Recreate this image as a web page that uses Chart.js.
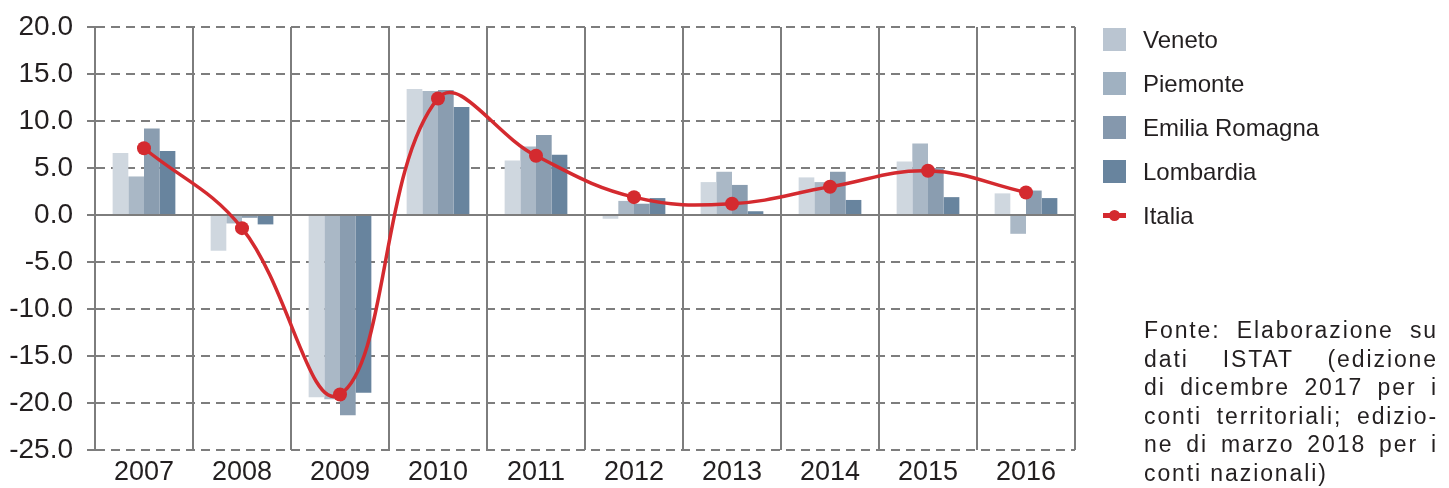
<!DOCTYPE html>
<html>
<head>
<meta charset="utf-8">
<script src="https://cdn.jsdelivr.net/npm/chart.js@4.4.1/dist/chart.umd.min.js"></script>
<style>
  html, body { margin: 0; padding: 0; background: #fff; }
  body { width: 1449px; height: 488px; position: relative; overflow: hidden;
         font-family: "Liberation Sans", Arial, sans-serif; color: #231f20; }
  #chart { position: absolute; left: 0; top: 0; }
  #legend { position: absolute; left: 1103px; top: 28px; }
  .item { height: 44px; display: flex; align-items: flex-start; font-size: 24px; }
  .item .box { width: 23px; height: 23px; margin-right: 17px; flex: none; }
  .item .ln { width: 23px; height: 23px; margin-right: 17px; flex: none; position: relative; }
  .item .ln::before { content: ""; position: absolute; left: 0; right: 0; top: 9px; height: 5px; background: #d42a2f; }
  .item .ln::after { content: ""; position: absolute; left: 6px; top: 6px; width: 11px; height: 11px; border-radius: 50%; background: #d42a2f; }
  .item span { line-height: 23px; }
  #note { position: absolute; left: 1144px; top: 316px; width: 294px; font-size: 23px; letter-spacing: 1.9px; line-height: 28.6px; }
  #note div { text-align: justify; text-align-last: justify; white-space: nowrap; }
  #note div.last { text-align-last: left; }
</style>
</head>
<body>
<canvas id="chart" width="1449" height="488"></canvas>
<div id="legend"></div>
<div id="note">
  <div>Fonte: Elaborazione su</div>
  <div>dati ISTAT (edizione</div>
  <div>di dicembre 2017 per i</div>
  <div>conti territoriali; edizio-</div>
  <div>ne di marzo 2018 per i</div>
  <div class="last">conti nazionali)</div>
</div>
<script>
const anni = ["2007", "2008", "2009", "2010", "2011", "2012", "2013", "2014", "2015", "2016"];
const veneto     = [6.6, -3.8, -19.4, 13.4, 5.8, -0.4, 3.5, 4.0, 5.7, 2.3];
const piemonte   = [4.1, -0.9, -19.6, 13.2, 7.3, 1.5, 4.6, 3.5, 7.6, -2.0];
const emilia     = [9.2, -0.3, -21.3, 13.3, 8.5, 1.2, 3.2, 4.6, 5.0, 2.6];
const lombardia  = [6.8, -1.0, -18.9, 11.5, 6.4, 1.8, 0.4, 1.6, 1.9, 1.8];
const italia     = [7.1, -1.4, -19.1, 12.4, 6.3, 1.9, 1.2, 3.0, 4.7, 2.4];

const coloriBarre = ['#cfd7df', '#aab8c6', '#8a9db0', '#68849e'];
const coloriLegenda = ['#bac5d1', '#a0b1c1', '#8598ad', '#68849e'];
const rosso = '#d42a2f';
const grigio = '#7d7d7d';
const font = "'Liberation Sans', Arial, sans-serif";

const serie = [
  { label: 'Veneto', data: veneto },
  { label: 'Piemonte', data: piemonte },
  { label: 'Emilia Romagna', data: emilia },
  { label: 'Lombardia', data: lombardia }
];

const datasets = serie.map((s, i) => ({
  type: 'bar',
  label: s.label,
  data: s.data,
  backgroundColor: coloriBarre[i],
  borderWidth: 0,
  categoryPercentage: 0.64,
  barPercentage: 1.0,
  order: 1
}));
datasets.push({
  type: 'line',
  label: 'Italia',
  data: italia,
  borderColor: rosso,
  backgroundColor: rosso,
  borderWidth: 3.5,
  tension: 0.4,
  pointRadius: 7,
  pointBackgroundColor: rosso,
  pointBorderWidth: 0,
  order: 0
});

// legenda html
const leg = document.getElementById('legend');
serie.forEach((s, i) => {
  leg.insertAdjacentHTML('beforeend',
    `<div class="item"><div class="box" style="background:${coloriLegenda[i]}"></div><span>${s.label}</span></div>`);
});
leg.insertAdjacentHTML('beforeend', `<div class="item"><div class="ln"></div><span>Italia</span></div>`);

new Chart(document.getElementById('chart'), {
  data: { labels: anni, datasets: datasets },
  options: {
    responsive: false,
    animation: false,
    layout: { padding: { top: 27, right: 374, left: 0, bottom: 0 } },
    plugins: { legend: { display: false }, tooltip: { enabled: false } },
    scales: {
      x: {
        afterFit: s => { s.height = 38; },
        grid: { color: grigio, lineWidth: 2, drawTicks: false, offset: true },
        border: { display: false },
        ticks: { color: '#231f20', font: { family: font, size: 27 }, padding: 6 }
      },
      y: {
        min: -25, max: 20,
        afterFit: s => { s.width = 95; s.paddingTop = 0; s.paddingBottom = 0; },
        grid: { color: grigio, lineWidth: 2, tickLength: 8, tickColor: grigio },
        border: {
          display: true, color: grigio, width: 2,
          dash: c => (c.type === 'tick' && c.tick && c.tick.value !== 0) ? [9, 6] : []
        },
        ticks: {
          stepSize: 5,
          color: '#231f20',
          font: { family: font, size: 28 },
          padding: 14,
          callback: v => v.toFixed(1)
        }
      }
    }
  }
});
</script>
</body>
</html>
